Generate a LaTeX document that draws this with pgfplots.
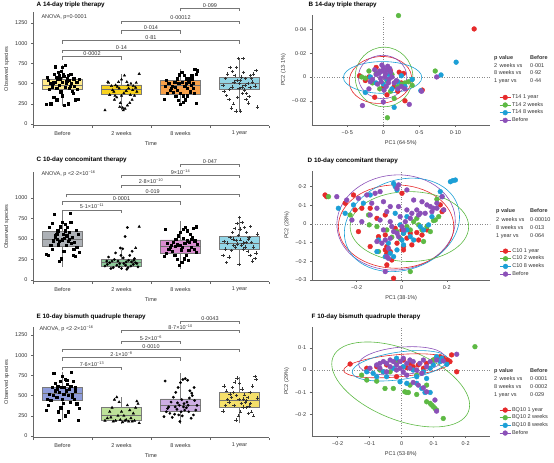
\documentclass[border=0pt]{standalone}
\usepackage{fontspec}
\setmainfont{Liberation Sans}
\usepackage{pgfplots}
\pgfplotsset{compat=1.18}
\definecolor{cRed}{HTML}{E62A2B}
\definecolor{cGreen}{HTML}{5DB944}
\definecolor{cBlue}{HTML}{1C9FD6}
\definecolor{cPurple}{HTML}{8B50B8}
\definecolor{axgray}{HTML}{666666}
\definecolor{dotgray}{HTML}{8A8A8A}
\definecolor{brgray}{HTML}{777777}
\definecolor{txt}{HTML}{333333}
\definecolor{boxedge}{HTML}{7A7A7A}
\definecolor{aB}{HTML}{FFEA8A}
\definecolor{aT}{HTML}{F8D21E}
\definecolor{aE}{HTML}{F8A14A}
\definecolor{aY}{HTML}{93D4E3}
\definecolor{cB}{HTML}{ADB1B6}
\definecolor{cT}{HTML}{8DCB9A}
\definecolor{cE}{HTML}{D98ED0}
\definecolor{cY}{HTML}{93D6E7}
\definecolor{eB}{HTML}{8E9CDB}
\definecolor{eT}{HTML}{BEE29A}
\definecolor{eE}{HTML}{CDAEE3}
\definecolor{eY}{HTML}{F5E06A}
\newcommand\fs{\fontsize{5.5}{6.5}\selectfont}
\newcommand\ft{\fontsize{6.3}{7}\selectfont\bfseries}
\newcommand\sps[1]{\textsuperscript{#1}}
\tikzset{el/.style={draw=#1, line width=0.6pt}, zl/.style={dotgray, dotted, line width=0.5pt}}
% bracket: x1, x2, y, y-drop, xmid, label
\newcommand{\brk}[6]{%
  \draw[brgray, line width=0.45pt] (axis cs:#1,#4) -- (axis cs:#1,#3) -- (axis cs:#2,#3) -- (axis cs:#2,#4);
  \node[font=\fs, text=txt, anchor=south, inner sep=0.7pt] at (axis cs:#5,#3) {#6};}
% box: pos, left, right, lw, lq, med, uq, uw, colour
\newcommand{\bxp}[9]{%
  \addplot[draw=boxedge, line width=0.45pt, forget plot] coordinates {(#1,#4)(#1,#8)};
  \addplot[draw=boxedge, line width=0.45pt, fill=#9, forget plot] coordinates {(#2,#5)(#3,#5)(#3,#7)(#2,#7)(#2,#5)};
  \addplot[draw=black!55, line width=0.7pt, forget plot] coordinates {(#2,#6)(#3,#6)};}
\pgfplotsset{
 boxax/.style={scale only axis, width=236pt, xmin=0.5, xmax=4.5, clip=false,
   axis x line*=bottom, axis y line*=left,
   axis line style={draw=axgray, line width=0.4pt},
   xtick={1,2,3,4}, xticklabels={Before,2 weeks,8 weeks,1 year},
   major x tick style={draw=none},
   minor xtick={0.5,1.5,2.5,3.5,4.5}, minor x tick style={draw=axgray, line width=0.4pt},
   minor tick length=2.5pt,
   tick align=outside, major tick length=2pt, ytick style={draw=axgray, line width=0.4pt},
   xlabel={Time}, ylabel={Observed species},
   ticklabel style={font=\fs, text=txt}, label style={font=\fs, text=txt},
   /pgf/number format/1000 sep={}, /pgf/number format/assume math mode=true,
   xlabel style={yshift=1pt}, ylabel style={yshift=-1pt},
 },
 pcaax/.style={scale only axis, width=178.3pt, scaled ticks=false,
   axis x line*=bottom, axis y line*=left,
   axis line style={draw=axgray, line width=0.4pt},
   tick align=outside, major tick length=2pt, tick style={draw=axgray, line width=0.4pt},
   ticklabel style={font=\fs, text=txt}, label style={font=\fs, text=txt},
   xlabel style={yshift=1pt}, ylabel style={yshift=-1pt},
   legend style={draw=none, fill=none, font=\fs, row sep=0.4pt, nodes={inner sep=0.9pt, text=txt}},
   legend cell align=left,
   legend image code/.code={\draw[#1,line width=0.9pt] (0pt,0pt)--(11pt,0pt); \fill[#1] (5.5pt,0pt) circle (2.4pt);},
 },
 pt/.style={only marks, mark=*, mark size=2.4pt, color=#1, forget plot},
}
\begin{document}
\begin{tikzpicture}
\useasboundingbox (0,0) rectangle (554pt,463pt);

% ================= A =================
\begin{axis}[boxax, at={(33pt,337.4pt)}, anchor=south west, height=113.1pt,
  ymin=-20, ymax=1380, ytick={0,250,...,1250}]
\bxp{1}{0.66}{1.34}{224}{430}{480}{559}{733}{aB}
\bxp{2}{1.66}{2.34}{170}{373}{430}{484}{620}{aT}
\bxp{3}{2.66}{3.34}{224}{373}{484}{538}{680}{aE}
\bxp{4}{3.66}{4.34}{150}{430}{505}{575}{803}{aY}
\addplot[only marks, mark=square*, mark size=1.1pt, black] coordinates {
(0.72,240)(0.80,250)(0.85,330)(0.90,300)(0.78,430)(0.82,470)(0.88,520)(0.92,560)(0.95,600)(0.98,650)(1.00,700)(1.05,730)(0.87,710)(0.93,640)(1.02,590)(1.08,560)(1.12,540)(1.15,500)(1.20,470)(1.25,430)(1.18,380)(1.22,300)(1.27,305)(1.10,250)(1.03,235)(0.97,400)(0.90,440)(0.84,510)(0.76,540)(0.74,580)(0.86,620)(0.94,480)(1.00,520)(1.04,460)(1.09,600)(1.14,620)(1.19,560)(1.24,520)(1.28,550)(0.99,350)(0.96,560)(1.06,500)(1.11,440)(1.16,410)(0.83,460)(0.89,580)(1.01,610)(1.07,530)(0.79,500)(1.13,470)};
\addplot[only marks, mark=triangle*, mark size=1.4pt, black] coordinates {
(1.72,170)(1.80,360)(1.85,420)(1.90,480)(1.95,520)(2.00,550)(2.05,600)(2.30,620)(1.78,510)(1.88,300)(1.92,330)(1.97,210)(2.02,200)(2.06,190)(2.10,230)(2.14,260)(2.18,300)(2.22,350)(2.26,400)(2.24,450)(2.20,470)(2.16,500)(2.12,440)(2.08,410)(2.04,380)(2.00,350)(1.96,440)(1.93,460)(1.87,400)(1.83,470)(1.77,520)(2.11,480)(2.19,420)(2.25,510)(2.03,170)(1.98,260)(2.15,360)(2.09,520)(1.89,350)};
\addplot[only marks, mark=square*, mark size=1.1pt, black] coordinates {
(2.72,310)(2.78,380)(2.82,420)(2.86,470)(2.90,520)(2.94,560)(2.98,610)(3.02,640)(3.06,600)(3.10,560)(3.14,520)(3.18,480)(3.22,440)(3.26,620)(3.28,660)(3.24,680)(3.20,560)(3.16,400)(3.12,350)(3.08,300)(3.04,270)(3.00,240)(2.96,290)(2.92,340)(2.88,390)(2.84,440)(2.80,500)(2.76,540)(2.74,470)(2.97,500)(3.03,520)(3.07,470)(3.11,440)(3.15,560)(3.19,600)(3.23,380)(3.27,260)(2.95,420)(2.99,380)(3.05,350)(3.09,500)(2.91,460)(3.13,530)(3.21,500)};
\addplot[only marks, mark=+, mark size=1.7pt, black!80, line width=0.5pt] coordinates {
(3.72,480)(3.76,560)(3.80,620)(3.84,700)(3.88,650)(3.92,600)(3.96,540)(4.00,500)(4.04,460)(4.08,420)(4.12,380)(4.16,340)(4.20,560)(4.24,620)(4.28,660)(4.30,210)(3.98,810)(4.06,810)(3.94,160)(4.02,160)(3.86,200)(3.90,250)(3.82,300)(3.78,350)(3.74,400)(4.10,560)(4.14,500)(4.18,450)(4.22,520)(4.26,470)(3.99,440)(4.03,580)(4.07,640)(3.95,700)(3.91,520)(3.87,460)(3.83,430)(4.11,300)(4.15,260)(4.19,600)(4.05,380)(3.97,330)(4.01,540)(4.09,480)};
\brk{1}{2}{833}{796}{1.5}{0·0002}
\brk{1}{3}{916}{879}{2}{0·14}
\brk{1}{4}{1031}{994}{2.5}{0·81}
\brk{2}{3}{1155}{1118}{2.5}{0·014}
\brk{2}{4}{1278}{1241}{3}{0·00012}
\brk{3}{4}{1432}{1395}{3.5}{0·099}
\end{axis}
\node[anchor=base west, font=\fs, text=txt] at (38pt,444.5pt) {ANOVA, p=0·0001};
\node[anchor=base west, font=\ft] at (33pt,456pt) {A\hspace{2pt}14-day triple therapy};

% ================= C =================
\begin{axis}[boxax, at={(33pt,181.4pt)}, anchor=south west, height=109.6pt,
  ymin=-20, ymax=1317, ytick={0,250,...,1000}]
\bxp{1}{0.66}{1.34}{163}{408}{498}{592}{816}{cB}
\bxp{2}{1.66}{2.34}{130}{171}{212}{253}{367}{cT}
\bxp{3}{2.66}{3.34}{135}{326}{408}{490}{714}{cE}
\bxp{4}{3.66}{4.34}{204}{375}{441}{530}{755}{cY}
\addplot[only marks, mark=square*, mark size=1.1pt, black] coordinates {
(0.72,310)(0.76,300)(0.80,420)(0.84,480)(0.88,540)(0.92,600)(0.96,650)(1.00,700)(1.04,680)(1.08,640)(1.12,580)(1.16,520)(1.20,460)(1.24,400)(1.28,340)(1.22,290)(1.18,300)(0.86,800)(1.13,815)(0.94,230)(0.98,260)(1.02,350)(1.06,420)(1.10,470)(0.78,640)(0.82,690)(0.90,560)(1.14,700)(1.26,560)(1.03,510)(0.99,490)(0.95,470)(0.91,500)(0.87,520)(1.07,540)(1.11,500)(1.15,450)(1.19,380)(1.23,610)(0.93,430)(1.05,600)(0.83,380)(1.01,560)};
\addplot[only marks, mark=*, mark size=1.2pt, black] coordinates {
(1.72,170)(1.76,190)(1.80,210)(1.84,230)(1.88,250)(1.92,180)(1.96,160)(2.00,140)(2.04,200)(2.08,220)(2.12,240)(2.16,170)(2.20,190)(2.24,210)(2.28,160)(1.78,280)(1.90,330)(1.98,390)(2.02,380)(2.06,530)(2.10,640)(2.14,300)(2.18,350)(2.22,260)(1.86,150)(1.94,230)(2.26,200)(1.82,140)(2.07,180)(2.03,270)(1.99,300)(2.11,150)(1.97,200)(2.09,130)(2.21,240)(1.75,230)(2.17,220)};
\addplot[only marks, mark=triangle*, mark size=1.4pt, black] coordinates {(2.30,650)(2.24,390)};
\addplot[only marks, mark=square*, mark size=1.1pt, black] coordinates {
(2.72,290)(2.76,330)(2.80,380)(2.84,420)(2.88,460)(2.92,500)(2.96,540)(3.00,580)(3.04,620)(3.08,640)(3.12,600)(3.16,560)(3.20,520)(3.24,480)(3.28,440)(3.26,650)(3.22,630)(3.18,400)(3.14,360)(3.10,300)(3.06,260)(3.02,220)(2.98,180)(2.94,250)(2.90,300)(2.86,350)(2.82,400)(2.78,450)(2.74,620)(2.99,420)(3.03,400)(3.07,450)(3.11,480)(3.15,460)(3.19,500)(3.23,380)(3.27,340)(2.95,430)(3.01,370)(3.05,510)(2.91,410)(3.13,240)};
\addplot[only marks, mark=+, mark size=1.7pt, black!80, line width=0.5pt] coordinates {
(3.72,300)(3.76,380)(3.80,450)(3.84,520)(3.88,580)(3.92,630)(3.96,690)(4.00,760)(4.04,700)(4.08,640)(4.12,580)(4.16,520)(4.20,460)(4.24,400)(4.28,330)(4.26,260)(4.22,230)(4.18,300)(4.14,350)(4.10,400)(4.06,450)(4.02,490)(3.98,540)(3.94,480)(3.90,420)(3.86,360)(3.82,280)(3.78,210)(3.74,470)(4.30,560)(3.99,190)(4.03,420)(4.07,380)(4.11,460)(4.15,500)(3.97,440)(3.93,400)(3.89,500)(4.01,620)(4.19,650)};
\brk{1}{2}{854}{817}{1.5}{5·1×10\sps{−11}}
\brk{1}{3}{955}{918}{2}{0·0001}
\brk{1.07}{4}{1045}{1008}{2.53}{0·019}
\brk{2}{3}{1159}{1122}{2.5}{2·8×10\sps{−10}}
\brk{2}{4}{1280}{1243}{3}{9×10\sps{−14}}
\brk{3}{4}{1415}{1378}{3.5}{0·047}
\end{axis}
\node[anchor=base west, font=\fs, text=txt] at (38pt,287pt) {ANOVA, p \textless2·2×10\sps{−16}};
\node[anchor=base west, font=\ft] at (33pt,301pt) {C\hspace{2pt}10-day concomitant therapy};

% ================= E =================
\begin{axis}[boxax, at={(33pt,25.4pt)}, anchor=south west, height=110.9pt,
  ymin=-20, ymax=1353, ytick={0,250,...,1250}]
\bxp{1}{0.66}{1.34}{198}{445}{528}{598}{796}{eB}
\bxp{2}{1.66}{2.34}{149}{190}{260}{351}{487}{eT}
\bxp{3}{2.66}{3.34}{149}{301}{384}{458}{776}{eE}
\bxp{4}{3.66}{4.34}{157}{359}{445}{540}{734}{eY}
\addplot[only marks, mark=square*, mark size=1.1pt, black] coordinates {
(0.72,320)(0.76,380)(0.80,440)(0.84,500)(0.88,560)(0.92,620)(0.96,680)(1.00,740)(1.04,700)(1.08,640)(1.12,580)(1.16,520)(1.20,460)(1.24,400)(1.28,340)(1.26,200)(1.05,250)(0.95,200)(0.85,780)(1.15,790)(0.90,480)(0.94,540)(0.98,600)(1.02,520)(1.06,560)(1.10,500)(1.14,620)(1.18,680)(1.22,560)(0.82,600)(0.78,520)(0.74,460)(1.01,410)(0.97,350)(0.93,300)(1.09,300)(1.13,420)(1.17,480)(1.21,600)(0.99,460)(1.03,600)(0.87,650)(1.07,690)(0.91,580)};
\addplot[only marks, mark=triangle*, mark size=1.4pt, black] coordinates {
(1.72,190)(1.76,220)(1.80,300)(1.84,350)(1.88,450)(1.92,480)(1.96,420)(2.00,300)(2.04,250)(2.08,200)(2.12,180)(2.16,220)(2.20,280)(2.24,350)(2.28,400)(2.26,430)(2.22,190)(2.18,180)(2.14,320)(2.10,380)(2.06,190)(2.02,170)(1.98,200)(1.94,250)(1.90,190)(1.86,180)(1.82,230)(2.30,160)};
\addplot[only marks, mark=*, mark size=1.2pt, black] coordinates {
(2.72,240)(2.76,300)(2.80,360)(2.84,420)(2.88,480)(2.92,540)(2.96,600)(3.00,660)(3.04,700)(3.08,710)(3.12,690)(3.16,560)(3.20,500)(3.24,440)(3.28,380)(3.26,320)(3.22,260)(3.18,220)(3.14,300)(3.10,350)(3.06,400)(3.02,450)(2.98,380)(2.94,330)(2.90,270)(2.86,230)(2.82,280)(2.78,340)(2.74,680)(2.99,180)(3.03,250)(3.07,320)(3.11,420)(3.15,470)(3.19,530)(3.23,600)(2.95,410)(2.91,360)(3.01,300)(3.05,360)(3.13,380)(2.97,260)};
\addplot[only marks, mark=+, mark size=1.7pt, black!80, line width=0.5pt] coordinates {
(3.72,310)(3.76,380)(3.80,450)(3.84,520)(3.88,600)(3.92,670)(3.96,720)(4.00,650)(4.04,580)(4.08,510)(4.12,440)(4.16,370)(4.20,300)(4.24,250)(4.28,700)(4.26,740)(4.22,620)(4.18,540)(4.14,480)(4.10,420)(4.06,360)(4.02,300)(3.98,250)(3.94,200)(3.90,540)(3.86,480)(3.82,420)(3.78,560)(3.74,620)(4.30,470)(3.99,450)(4.03,400)(4.07,460)(3.95,500)(3.91,380)(4.11,350)(4.15,280)(4.19,400)};
\brk{1}{2}{850}{813}{1.5}{7·6×10\sps{−13}}
\brk{1}{3}{969}{932}{2}{2·1×10\sps{−8}}
\brk{1}{4}{1077}{1040}{2.5}{0·0010}
\brk{2}{3}{1176}{1139}{2.5}{5·2×10\sps{−6}}
\brk{2}{4}{1312}{1275}{3}{8·7×10\sps{−10}}
\brk{3}{4}{1423}{1386}{3.5}{0·0043}
\end{axis}
\node[anchor=base west, font=\fs, text=txt] at (36pt,132pt) {ANOVA, p \textless2·2×10\sps{−16}};
\node[anchor=base west, font=\ft] at (33pt,144.7pt) {E\hspace{2pt}10-day bismuth quadruple therapy};

% ================= B =================
\begin{axis}[pcaax, at={(311.7pt,338pt)}, anchor=south west, height=110pt,
  xmin=-0.0994, xmax=0.148, ymin=-0.0403, ymax=0.052,
  xtick={-0.05,0,0.05,0.10}, xticklabels={−0·5,0,0·5,0·10},
  ytick={-0.02,0,0.02,0.04}, yticklabels={−0·02,0,0·02,0·04},
  xlabel={PC1 (64·5\%)}, ylabel={PC2 (13·1\%)},
  legend style={at={(1.034,0.303)}, anchor=north west}]
\draw[zl] (axis cs:0,-0.0403) -- (axis cs:0,0.052);
\draw[zl] (axis cs:-0.0994,0) -- (axis cs:0.148,0);
\addplot[pt=cRed] coordinates {(0.126,0.0403)(-0.033,0.001)(0.054,-0.011)(0.03,-0.02)(0.005,-0.015)(-0.012,-0.017)(0.02,-0.012)(-0.01,0.008)(0.025,-0.005)(0.01,0.005)(-0.02,0.0)(0.028,0.003)(-0.025,-0.003)(0,-0.009)(0.015,-0.008)(0.022,0.004)};
\addplot[pt=cGreen] coordinates {(0.021,0.0515)(0.0056,-0.0342)(0.072,0.005)(-0.02,0.005)(-0.03,0)(0.03,-0.005)(0.04,-0.007)(0.035,-0.004)(-0.025,-0.001)(0.01,-0.012)(0.015,-0.018)(-0.005,-0.01)(0.02,-0.008)(0.04,-0.002)(-0.01,0.003)(0.025,-0.006)(0.005,-0.003)(-0.015,-0.005)(0.012,0.002)};
\addplot[pt=cBlue] coordinates {(0.101,0.0124)(0.080,0.0017)(0.015,-0.0255)(0.052,-0.0115)(-0.025,-0.013)(0.025,0.001)(-0.01,-0.005)(0.005,-0.002)(0.02,-0.004)(0.04,-0.002)(-0.018,0)(0.012,-0.01)(0,-0.006)(-0.005,0.004)(0.03,-0.008)(0.008,0.002)};
\addplot[pt=cPurple] coordinates {(-0.005,0.005)(0,0.008)(0.005,0.006)(-0.01,0.002)(0.002,0)(-0.003,-0.004)(0.008,-0.002)(0.01,0.004)(-0.008,-0.006)(0.004,-0.008)(-0.012,0.006)(0.012,0)(-0.002,0.01)(0.006,0.009)(-0.015,-0.002)(0.015,-0.005)(0.02,-0.01)(0.025,-0.008)(0.03,-0.01)(-0.02,-0.01)(0,-0.021)(-0.029,-0.024)(0.036,-0.023)(0.074,0)(0.053,-0.012)(-0.006,0.003)(0.003,0.003)(0.009,0.007)(-0.004,-0.001)(0.001,-0.011)(0.018,-0.003)(-0.018,-0.004)(0.007,-0.005)(-0.001,0.005)};
\draw[el=cGreen] (axis cs:0.001,0) ellipse [x radius=0.040, y radius=0.025];
\draw[el=cRed, rotate around={6:(axis cs:-0.004,-0.0025)}] (axis cs:-0.004,-0.0025) ellipse [x radius=0.0435, y radius=0.0196];
\draw[el=cBlue] (axis cs:-0.001,-0.0004) ellipse [x radius=0.0544, y radius=0.0133];
\draw[el=cPurple] (axis cs:-0.001,0) ellipse [x radius=0.0336, y radius=0.0182];
\addlegendimage{cRed}\addlegendentry{T14 1 year}
\addlegendimage{cGreen}\addlegendentry{T14 2 weeks}
\addlegendimage{cBlue}\addlegendentry{T14 8 weeks}
\addlegendimage{cPurple}\addlegendentry{Before}
\end{axis}
\node[anchor=base west, font=\ft] at (305pt,456pt) {B\hspace{2pt}14-day triple therapy};
\begin{scope}[every node/.style={anchor=base west, font=\fs, text=txt, inner sep=0pt}]
\node at (494pt,403.7pt) {\textbf{p value}};
\node at (530pt,403.7pt) {\textbf{Before}};
\node at (494pt,395.7pt) {2 \,weeks vs};
\node at (530pt,395.7pt) {0·001};
\node at (494pt,388pt) {8 weeks vs};
\node at (530pt,388pt) {0·92};
\node at (494pt,380pt) {1 year vs};
\node at (530pt,380pt) {0·44};
\end{scope}

% ================= D =================
\begin{axis}[pcaax, at={(312pt,183pt)}, anchor=south west, height=109.3pt,
  xmin=-0.398, xmax=0.393, ymin=-0.3, ymax=0.285,
  xtick={-0.2,0,0.2}, xticklabels={−0·2,0,0·2},
  ytick={-0.3,-0.2,-0.1,0,0.1,0.2}, yticklabels={−0·3,−0·2,−0·1,0,0·1,0·2},
  xlabel={PC1 (38·1\%)}, ylabel={PC2 (28\%)},
  legend style={at={(1.034,0.317)}, anchor=north west}]
\draw[zl] (axis cs:0,-0.3) -- (axis cs:0,0.285);
\draw[zl] (axis cs:-0.398,0) -- (axis cs:0.393,0);
\addplot[pt=cRed] coordinates {(-0.340,0.155)(-0.333,0.146)(-0.251,0.111)(-0.207,0.075)(-0.177,0.084)(-0.140,0.084)(-0.073,0.048)(-0.029,-0.023)(0.001,-0.032)(0.023,-0.076)(0.045,-0.112)(0.008,-0.121)(-0.066,-0.121)(-0.073,-0.139)(-0.051,-0.148)(-0.140,-0.121)(0.008,-0.139)(-0.066,-0.219)(-0.044,-0.193)(-0.036,-0.291)(0.067,-0.046)(0.090,-0.059)(0.112,-0.032)(0.171,0.102)(0.179,0.066)(0.186,0.075)(0.001,0.164)(-0.214,0.155)(-0.066,-0.157)(0.038,-0.050)(0.075,-0.086)(-0.103,-0.068)(-0.192,-0.041)(-0.073,-0.059)(-0.021,-0.103)(-0.110,0.030)};
\addplot[pt=cGreen] coordinates {(-0.325,0.146)(-0.229,0.048)(-0.147,0.048)(-0.144,-0.005)(-0.103,-0.148)(-0.044,-0.071)(-0.021,-0.041)(0.008,-0.050)(0.038,-0.032)(0.053,0.012)(0.067,0.030)(0.090,-0.032)(0.112,-0.014)(0.127,-0.041)(0.141,0.018)(0.149,0.021)(0.164,0.039)(0.156,0.132)(0.038,-0.255)(0.097,-0.094)(0.075,-0.005)(0.023,-0.014)(-0.007,-0.077)(-0.066,-0.032)(-0.110,-0.014)};
\addplot[pt=cBlue] coordinates {(-0.281,0.084)(-0.251,0.057)(-0.214,0.102)(-0.170,0.111)(-0.140,0.155)(-0.029,0.057)(-0.036,0.217)(-0.021,0.182)(-0.029,0.200)(0.023,-0.032)(0.001,-0.086)(0.008,-0.050)(-0.021,-0.139)(-0.036,-0.175)(-0.051,-0.157)(-0.073,-0.175)(-0.110,-0.148)(0.053,-0.086)(0.082,-0.014)(0.134,0.039)(0.171,0.173)(0.179,0.146)(0.216,0.226)(0.227,0.232)(0.238,0.235)(0.119,-0.005)(0.097,-0.032)(0.023,0.039)(-0.007,-0.005)(0.038,-0.068)(-0.059,-0.103)(0.008,-0.112)(-0.103,-0.086)};
\addplot[pt=cPurple] coordinates {(-0.288,0.146)(-0.244,0.128)(-0.192,0.137)(-0.155,0.155)(-0.118,0.164)(-0.096,0.173)(-0.133,0.111)(-0.081,0.119)(-0.110,0.084)(-0.066,0.066)(-0.140,0.048)(-0.096,0.021)(-0.051,0.012)(-0.044,-0.014)(-0.014,0.093)(-0.021,0.191)(-0.014,0.209)(0.023,0.182)(0.053,0.128)(0.090,0.119)(0.112,0.102)(0.127,0.093)(0.141,0.084)(0.156,0.111)(0.134,0.066)(0.104,0.057)(0.075,0.048)(0.038,0.030)(0.016,0.012)(0.001,-0.014)(0.008,-0.032)(-0.021,-0.050)(-0.014,-0.068)(-0.051,-0.077)(-0.073,-0.086)(-0.088,-0.103)(-0.110,-0.094)(-0.059,-0.130)(-0.066,-0.175)(-0.059,-0.184)(-0.073,-0.255)(0.023,0.075)(-0.051,0.093)(-0.221,0.021)(-0.177,0.012)(0.186,0.075)(0.179,0.146)(0.156,0.084)(0.082,0.057)(0.067,0.075)(0.045,0.057)(-0.007,0.039)(-0.036,-0.041)(-0.081,-0.032)};
\draw[el=cPurple, rotate around={5:(axis cs:-0.025,0.008)}] (axis cs:-0.025,0.008) ellipse [x radius=0.263, y radius=0.254];
\draw[el=cRed] (axis cs:-0.025,-0.014) ellipse [x radius=0.256, y radius=0.223];
\draw[el=cBlue, rotate around={20:(axis cs:0.001,-0.005)}] (axis cs:0.001,-0.005) ellipse [x radius=0.262, y radius=0.24];
\draw[el=cGreen] (axis cs:0.034,-0.014) ellipse [x radius=0.263, y radius=0.187];
\addlegendimage{cRed}\addlegendentry{C10 1 year}
\addlegendimage{cGreen}\addlegendentry{C10 2 weeks}
\addlegendimage{cBlue}\addlegendentry{C10 8 weeks}
\addlegendimage{cPurple}\addlegendentry{Before}
\end{axis}
\node[anchor=base west, font=\ft] at (304pt,300.3pt) {D\hspace{2pt}10-day concomitant therapy};
\begin{scope}[every node/.style={anchor=base west, font=\fs, text=txt, inner sep=0pt}]
\node at (496pt,250pt) {\textbf{p value}};
\node at (530pt,250pt) {\textbf{Before}};
\node at (496pt,241.5pt) {2 \,weeks vs};
\node at (530pt,241.5pt) {0·00010};
\node at (496pt,233.5pt) {8 weeks vs};
\node at (530pt,233.5pt) {0·013};
\node at (496pt,225pt) {1 year vs};
\node at (530pt,225pt) {0·064};
\end{scope}

% ================= F =================
\begin{axis}[pcaax, at={(311.7pt,27pt)}, anchor=south west, height=109.3pt,
  xmin=-0.281, xmax=0.276, ymin=-0.297, ymax=0.195,
  xtick={-0.2,-0.1,0,0.1,0.2}, xticklabels={−0·2,−0·1,0,0·1,0·2},
  ytick={-0.2,-0.1,0,0.1}, yticklabels={−0·2,−0·1,0,0·1},
  xlabel={PC1 (53·8\%)}, ylabel={PC2 (29\%)},
  legend style={at={(1.034,0.29)}, anchor=north west}]
\draw[zl] (axis cs:0,-0.297) -- (axis cs:0,0.195);
\draw[zl] (axis cs:-0.281,0) -- (axis cs:0.276,0);
\addplot[pt=cRed] coordinates {(-0.161,0.027)(-0.109,0.008)(-0.078,0.015)(-0.047,0.023)(-0.016,0.038)(0.005,0.045)(0.026,0.030)(0.036,0.015)(0.052,0.023)(0.078,0.030)(0.099,0.045)(0.109,0.053)(0.120,0.060)(0.130,0.053)(0.141,0.045)(0.151,0.038)(0.156,0.068)(0.172,-0.008)(0.068,0.008)(0.016,0.011)(-0.057,-0.008)(-0.016,-0.030)};
\addplot[pt=cGreen] coordinates {(0.229,0.105)(0.130,-0.218)(0.078,-0.143)(0.089,-0.150)(0.094,-0.158)(0.099,-0.165)(0.104,-0.173)(0.109,-0.180)(0.047,-0.110)(0.016,-0.101)(0.010,-0.098)(0.021,-0.101)(-0.026,-0.083)(-0.052,-0.083)(-0.078,-0.050)(-0.125,-0.023)(-0.109,-0.045)(0.047,-0.023)(0.099,0.045)(-0.016,0.030)(-0.036,-0.008)(-0.068,0)(0.078,-0.068)(0.026,-0.068)};
\addplot[pt=cBlue] coordinates {(-0.109,-0.008)(-0.089,-0.015)(-0.057,-0.008)(-0.026,0.008)(0.005,0.015)(0.036,0)(0.068,-0.008)(0.089,0.008)(0.109,0.060)(0.125,0.053)(0.141,0.026)(0.047,-0.030)(0.016,-0.060)(0.047,-0.060)(0.063,-0.083)(0.073,-0.101)(0.089,-0.101)(-0.005,-0.053)(-0.047,-0.030)(-0.078,-0.030)(0.078,-0.038)(0.099,0.023)(0.120,0.038)(-0.016,0.053)};
\addplot[pt=cPurple] coordinates {(-0.099,0.008)(-0.078,0.023)(-0.068,0.030)(-0.057,0.038)(-0.047,0.030)(-0.036,0.045)(-0.026,0.038)(-0.016,0.023)(-0.005,0.038)(0.005,0.053)(0.016,0.030)(0.026,0.045)(0.036,0.038)(0.057,0.030)(0.068,0.045)(0.089,0.038)(0.109,0.045)(0.130,0.041)(0.172,0.071)(0.047,0)(0.063,-0.015)(0.036,-0.056)(0.052,-0.068)(0.068,-0.080)(0.078,-0.098)(0.109,-0.185)(-0.016,0)(-0.047,-0.008)(0.016,-0.023)(-0.036,0.015)(-0.005,0.008)(-0.068,0.008)(0.078,0.015)(0.026,0.008)(0.005,-0.008)(0.104,-0.135)};
\draw[el=cGreen, rotate around={-22:(axis cs:-0.003,-0.065)}] (axis cs:-0.003,-0.065) ellipse [x radius=0.228, y radius=0.158];
\draw[el=cRed, rotate around={5:(axis cs:-0.013,0.019)}] (axis cs:-0.013,0.019) ellipse [x radius=0.169, y radius=0.05];
\draw[el=cBlue, rotate around={8:(axis cs:-0.005,0.019)}] (axis cs:-0.005,0.019) ellipse [x radius=0.151, y radius=0.062];
\draw[el=cPurple, rotate around={5:(axis cs:0,0.041)}] (axis cs:0,0.041) ellipse [x radius=0.135, y radius=0.062];
\addlegendimage{cRed}\addlegendentry{BQ10 1 year}
\addlegendimage{cGreen}\addlegendentry{BQ10 2 weeks}
\addlegendimage{cBlue}\addlegendentry{BQ10 8 weeks}
\addlegendimage{cPurple}\addlegendentry{Before}
\end{axis}
\node[anchor=base west, font=\ft] at (308pt,144pt) {F\hspace{2pt}10-day bismuth quadruple therapy};
\begin{scope}[every node/.style={anchor=base west, font=\fs, text=txt, inner sep=0pt}]
\node at (494pt,90pt) {\textbf{p value}};
\node at (530pt,90pt) {\textbf{Before}};
\node at (494pt,82pt) {2 \,weeks vs};
\node at (530pt,82pt) {0·0001};
\node at (494pt,74pt) {8 weeks vs};
\node at (530pt,74pt) {0·0002};
\node at (494pt,66pt) {1 year vs};
\node at (530pt,66pt) {0·029};
\end{scope}
\end{tikzpicture}
\end{document}
